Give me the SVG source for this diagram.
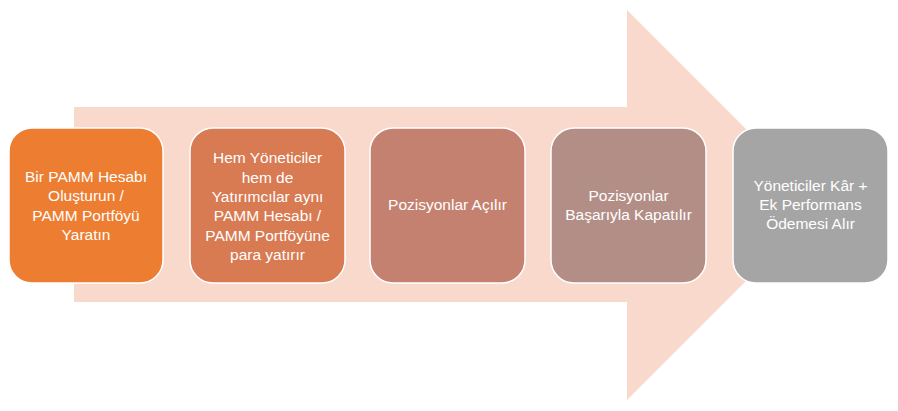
<svg xmlns="http://www.w3.org/2000/svg" width="898" height="411" viewBox="0 0 898 411">
<style>
.box{stroke:#ffffff;stroke-width:1.5}
.t{font-family:"Liberation Sans",Arial,sans-serif;font-size:15.5px;fill:#ffffff;text-anchor:middle;dominant-baseline:central}
</style>
<rect width="898" height="411" fill="#ffffff"/>
<g id="arrow">
<polygon points="74,107 627,107 627,10 822,205 627,400 627,302 74,302" fill="#F8D9CC"/>
</g>
<g id="connectors"></g>
<g id="n1">
<rect class="box" x="9" y="128" width="154" height="155" rx="23" fill="#ED7D31"/>
<text class="t" x="86"><tspan x="86" y="176">Bir PAMM Hesabı</tspan><tspan x="86" y="195.3">Oluşturun /</tspan><tspan x="86" y="214.6">PAMM Portföyü</tspan><tspan x="86" y="234">Yaratın</tspan></text>
</g>
<g id="n2">
<rect class="box" x="190" y="128" width="155" height="155" rx="23" fill="#D87A52"/>
<text class="t" x="267.5"><tspan x="267.5" y="157.3">Hem Yöneticiler</tspan><tspan x="267.5" y="176.6">hem de</tspan><tspan x="267.5" y="195.9">Yatırımcılar aynı</tspan><tspan x="267.5" y="215.2">PAMM Hesabı /</tspan><tspan x="267.5" y="234.5">PAMM Portföyüne</tspan><tspan x="267.5" y="253.8">para yatırır</tspan></text>
</g>
<g id="n3">
<rect class="box" x="370" y="128" width="155" height="155" rx="23" fill="#C58170"/>
<text class="t" x="447.5" y="204">Pozisyonlar Açılır</text>
</g>
<g id="n4">
<rect class="box" x="551" y="128" width="155" height="155" rx="23" fill="#B38E87"/>
<text class="t" x="628.5"><tspan x="628.5" y="195">Pozisyonlar</tspan><tspan x="628.5" y="214.3">Başarıyla Kapatılır</tspan></text>
</g>
<g id="n5">
<rect class="box" x="733" y="128" width="155" height="155" rx="23" fill="#A5A5A5"/>
<text class="t" x="810.5"><tspan x="810.5" y="184.5">Yöneticiler Kâr +</tspan><tspan x="810.5" y="203.8">Ek Performans</tspan><tspan x="810.5" y="223.1">Ödemesi Alır</tspan></text>
</g>
</svg>
